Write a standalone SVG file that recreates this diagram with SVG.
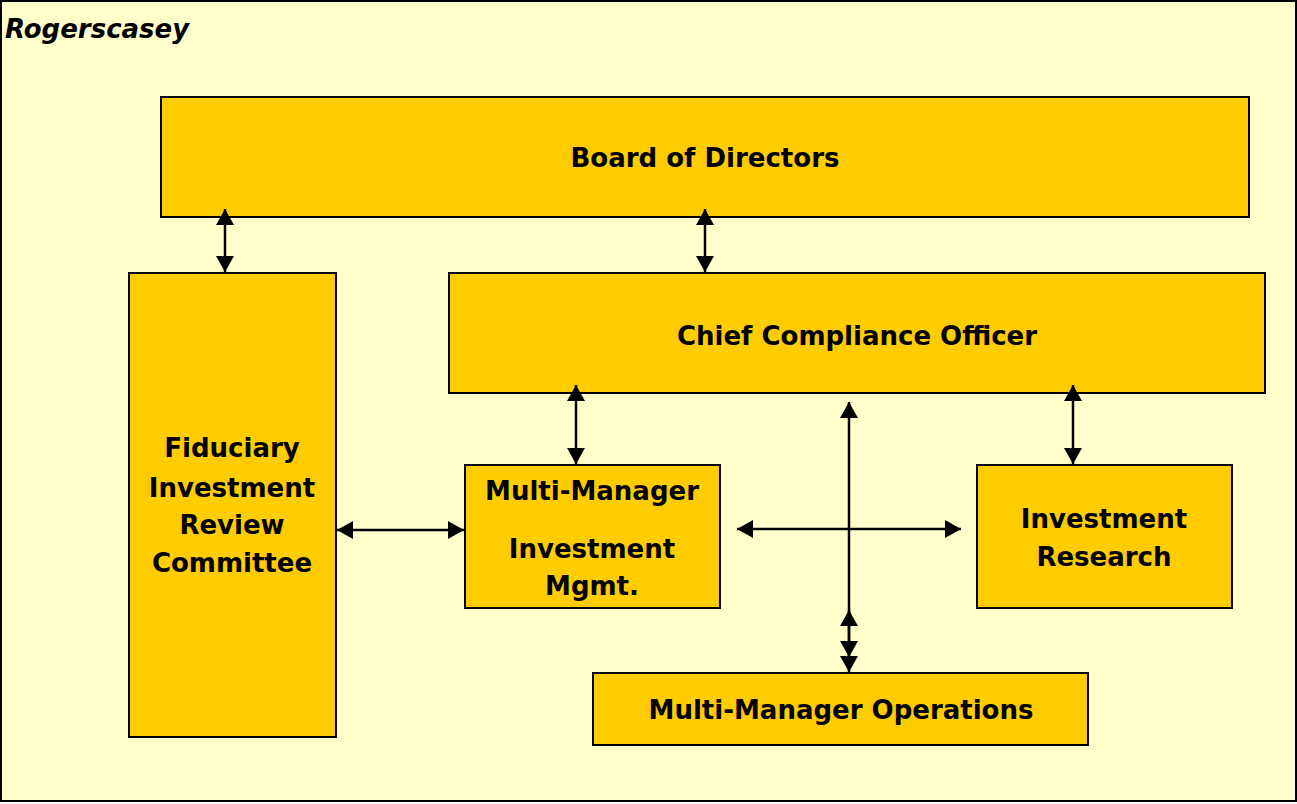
<svg xmlns="http://www.w3.org/2000/svg" width="1297" height="804" viewBox="0 0 1297 804">
<defs>
<style>
.box{fill:#FFCC00;stroke:#000;stroke-width:2}
.t{font-family:"DejaVu Sans","Liberation Sans",sans-serif;font-weight:bold;font-size:26px;fill:#000;text-anchor:middle}
.c{stroke:#000;stroke-width:2.5;fill:none}
</style>
<marker id="ah" viewBox="0 0 16 18" refX="16" refY="9" markerWidth="16" markerHeight="18" markerUnits="userSpaceOnUse" orient="auto-start-reverse">
<path d="M0,0 L16,9 L0,18 Z" fill="#000"/>
</marker>
</defs>
<rect x="1" y="1" width="1295" height="800" fill="#FFFFCC" stroke="#000" stroke-width="2"/>
<text x="5" y="38" font-family="DejaVu Sans, sans-serif" font-weight="bold" font-style="italic" font-size="26" fill="#000">Rogerscasey</text>
<g id="board"><rect class="box" x="161" y="97" width="1088" height="120"/><text class="t" x="705" y="167">Board of Directors</text></g>
<g id="cco"><rect class="box" x="449" y="273" width="816" height="120"/><text class="t" x="857" y="345">Chief Compliance Officer</text></g>
<g id="firc"><rect class="box" x="129" y="273" width="207" height="464"/><text class="t" x="232" y="457">Fiduciary</text><text class="t" x="232" y="497">Investment</text><text class="t" x="232" y="534">Review</text><text class="t" x="232" y="572">Committee</text></g>
<g id="mmim"><rect class="box" x="465" y="465" width="255" height="143"/><text class="t" x="592" y="500">Multi-Manager</text><text class="t" x="592" y="558">Investment</text><text class="t" x="592" y="595">Mgmt.</text></g>
<g id="ir"><rect class="box" x="977" y="465" width="255" height="143"/><text class="t" x="1104" y="528">Investment</text><text class="t" x="1104" y="566">Research</text></g>
<g id="mmo"><rect class="box" x="593" y="673" width="495" height="72"/><text class="t" x="841" y="719">Multi-Manager Operations</text></g>
<g id="connectors">
<line class="c" x1="225" y1="209" x2="225" y2="272" marker-start="url(#ah)" marker-end="url(#ah)"/>
<line class="c" x1="705" y1="209" x2="705" y2="272" marker-start="url(#ah)" marker-end="url(#ah)"/>
<line class="c" x1="576" y1="385" x2="576" y2="464" marker-start="url(#ah)" marker-end="url(#ah)"/>
<line class="c" x1="1073" y1="385" x2="1073" y2="464" marker-start="url(#ah)" marker-end="url(#ah)"/>
<line class="c" x1="337" y1="530" x2="464" y2="530" marker-start="url(#ah)" marker-end="url(#ah)"/>
<line class="c" x1="737" y1="529" x2="961" y2="529" marker-start="url(#ah)" marker-end="url(#ah)"/>
<line class="c" x1="849" y1="402" x2="849" y2="672" marker-start="url(#ah)" marker-end="url(#ah)"/>
<line class="c" x1="849" y1="610" x2="849" y2="657" marker-start="url(#ah)" marker-end="url(#ah)"/>
</g>
</svg>
